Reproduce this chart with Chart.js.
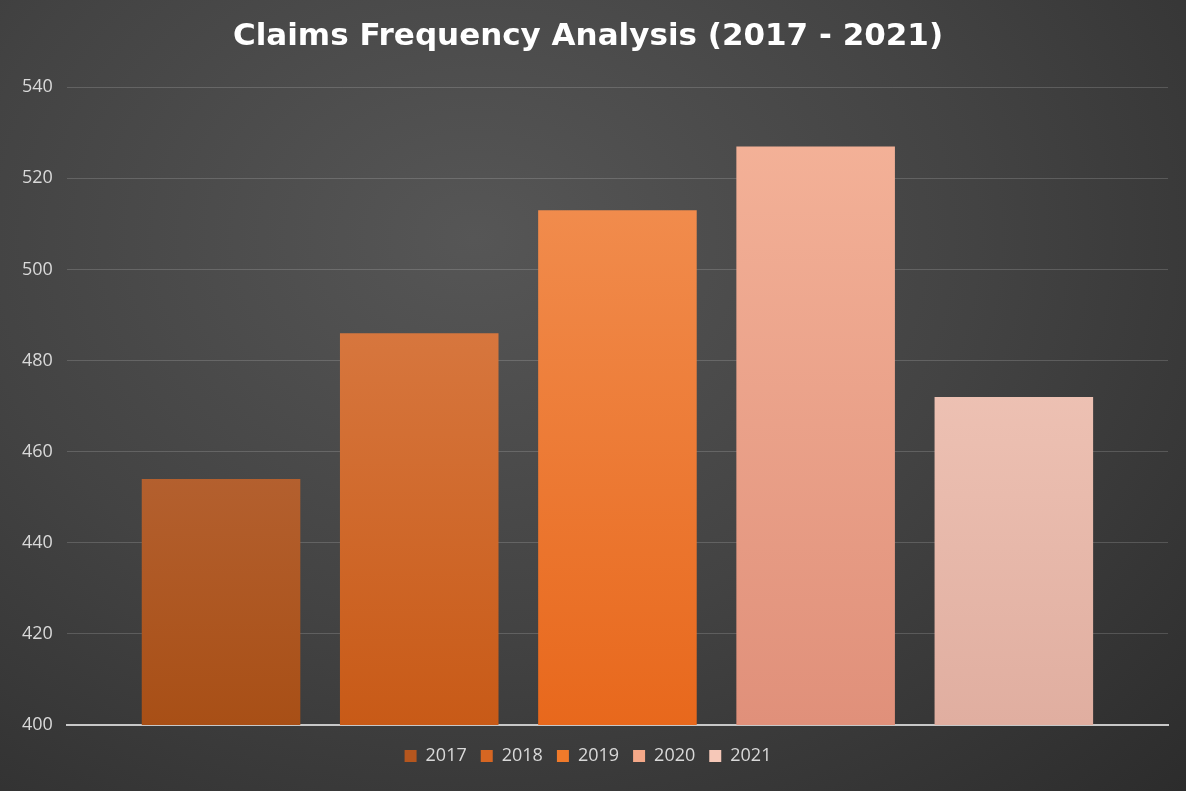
<!DOCTYPE html>
<html>
<head>
<meta charset="utf-8">
<script src="https://cdn.jsdelivr.net/npm/chart.js@4"></script>
<style>
  html, body { margin: 0; padding: 0; }
  body {
    width: 1186px; height: 791px; overflow: hidden;
    background: radial-gradient(ellipse at 40% 30%, #565656 0%, #434343 50%, #2c2c2c 100%);
  }
  #wrap { position: relative; width: 1186px; height: 791px; }
</style>
</head>
<body>
<div id="wrap"><canvas id="c"></canvas></div>
<script>
var years = ['2017', '2018', '2019', '2020', '2021'];
var claims = [454, 486, 513, 527, 472];
var yTicks = [400, 420, 440, 460, 480, 500, 520, 540];

// top / bottom shades of each bar, plus the legend swatch
var topColors = ['#c67a55', '#e08856', '#f39458', '#f5b49a', '#f9d2c4'];
var bottomColors = ['#a84f16', '#c85a17', '#e8681c', '#e0907a', '#e0aea0'];
var legendColors = ['#b5561e', '#d66622', '#f07a2a', '#f4a888', '#f6c8b8'];

function gradientFor(i) {
  return function (ctx) {
    var area = ctx.chart.chartArea;
    if (!area) return legendColors[i];
    var g = ctx.chart.ctx.createLinearGradient(0, area.top, 0, area.bottom);
    g.addColorStop(0, topColors[i]);
    g.addColorStop(1, bottomColors[i]);
    return g;
  };
}

var datasets = years.map(function (y, i) {
  return {
    label: y,
    data: [claims[i]],
    backgroundColor: gradientFor(i),
    borderWidth: 0,
    barPercentage: 0.8,
    categoryPercentage: 0.9
  };
});

Chart.defaults.font.family = "'Open Sans', 'DejaVu Sans', sans-serif";
Chart.defaults.color = '#d9d9d9';

new Chart(document.getElementById('c'), {
  type: 'bar',
  data: { labels: [''], datasets: datasets },
  options: {
    responsive: true,
    maintainAspectRatio: false,
    animation: false,
    layout: { padding: { left: 8, right: 18, top: 0, bottom: 16 } },
    plugins: {
      title: {
        display: true,
        text: 'Claims Frequency Analysis (2017 - 2021)',
        color: '#ffffff',
        font: { family: "'DejaVu Sans', sans-serif", size: 31, weight: 'bold' },
        padding: { top: 18, bottom: 32 }
      },
      legend: {
        position: 'bottom',
        labels: {
          boxWidth: 12,
          boxHeight: 12,
          padding: 14,
          color: '#d9d9d9',
          font: { size: 18 },
          generateLabels: function () {
            return years.map(function (y, i) {
              return { text: y, fillStyle: legendColors[i], strokeStyle: legendColors[i], lineWidth: 0, datasetIndex: i, fontColor: '#d9d9d9' };
            });
          }
        }
      },
      tooltip: { enabled: false }
    },
    scales: {
      x: {
        grid: { display: false },
        border: { color: '#c8c8c8', width: 2 },
        ticks: { display: false }
      },
      y: {
        min: 400,
        max: 540,
        afterBuildTicks: function (axis) {
          axis.ticks = yTicks.map(function (v) { return { value: v }; });
        },
        grid: { color: 'rgba(255,255,255,0.16)', drawTicks: false },
        border: { display: false },
        ticks: { color: '#d9d9d9', font: { size: 18 }, padding: 14 }
      }
    }
  }
});
</script>
</body>
</html>
